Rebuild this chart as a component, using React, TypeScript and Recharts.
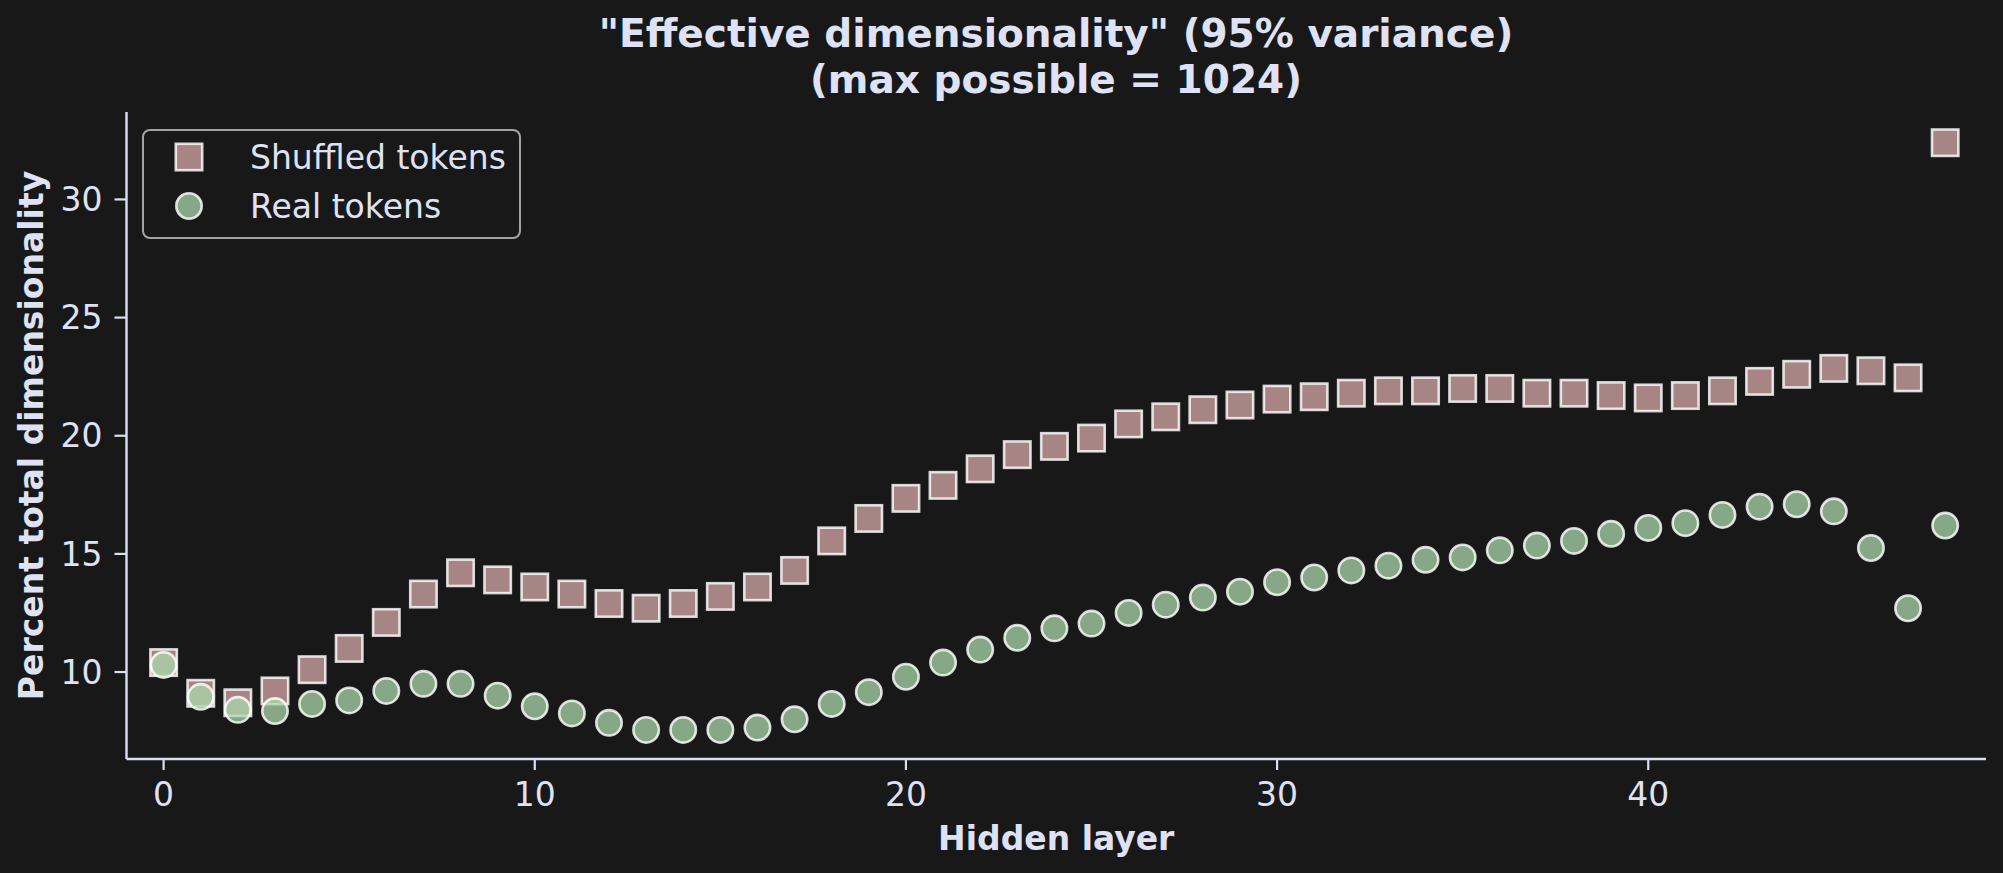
import React from "react";
import { ScatterChart, Scatter, XAxis, YAxis, Legend, Label } from "recharts";

const layers = [
  0, 1, 2, 3, 4, 5, 6, 7, 8, 9, 10, 11, 12, 13, 14, 15, 16, 17, 18, 19, 20, 21, 22, 23, 24,
  25, 26, 27, 28, 29, 30, 31, 32, 33, 34, 35, 36, 37, 38, 39, 40, 41, 42, 43, 44, 45, 46, 47, 48,
];

const shuffledTokens = [
  10.4, 9.1, 8.7, 9.2, 10.1, 11.0, 12.1, 13.3, 14.2, 13.9, 13.6, 13.3, 12.9, 12.7, 12.9, 13.2,
  13.6, 14.3, 15.55, 16.5, 17.35, 17.9, 18.6, 19.2, 19.55, 19.9, 20.5, 20.8, 21.1, 21.3, 21.55,
  21.65, 21.8, 21.9, 21.9, 22.0, 22.0, 21.8, 21.8, 21.7, 21.6, 21.7, 21.9, 22.3, 22.6, 22.85,
  22.75, 22.45, 32.4,
];

const realTokens = [
  10.3, 8.95, 8.4, 8.35, 8.65, 8.8, 9.2, 9.5, 9.5, 9.0, 8.55, 8.25, 7.85, 7.55, 7.55, 7.55,
  7.65, 8.0, 8.65, 9.15, 9.8, 10.4, 10.95, 11.45, 11.85, 12.05, 12.5, 12.85, 13.15, 13.4, 13.8,
  14.0, 14.3, 14.5, 14.75, 14.85, 15.15, 15.35, 15.55, 15.85, 16.1, 16.3, 16.65, 17.0, 17.1,
  16.8, 15.25, 12.7, 16.2,
];

const xTicks = [0, 10, 20, 30, 40];
const yTicks = [10, 15, 20, 25, 30];

const seriesNames = ["Shuffled tokens", "Real tokens"];

const BG = "#181818";
const FG = "#dfe2f5";
const FONT = "'DejaVu Sans', sans-serif";
const PINK = "#d8a9a9";
const GREEN = "#abd8ab";

const shuffledData = layers.map((x, i) => ({ x, y: shuffledTokens[i] }));
const realData = layers.map((x, i) => ({ x, y: realTokens[i] }));

function SquareMark({ cx, cy }: any) {
  return (
    <rect
      x={cx - 13.2}
      y={cy - 13.2}
      width={26.4}
      height={26.4}
      fill={PINK}
      fillOpacity={0.75}
      stroke="#ffffff"
      strokeOpacity={0.82}
      strokeWidth={2.6}
    />
  );
}

function CircleMark({ cx, cy }: any) {
  return (
    <circle
      cx={cx}
      cy={cy}
      r={12.7}
      fill={GREEN}
      fillOpacity={0.75}
      stroke="#ffffff"
      strokeOpacity={0.82}
      strokeWidth={2.6}
    />
  );
}

function LegendBox() {
  return (
    <div
      style={{
        width: 379,
        height: 110,
        boxSizing: "border-box",
        border: "2.4px solid #a3a3a3",
        borderRadius: 8,
        background: BG,
        position: "relative",
        fontFamily: FONT,
      }}
    >
      <svg width={379} height={110} style={{ position: "absolute", left: -2.4, top: -2.4 }}>
        <g transform="translate(47,28)">
          <SquareMark cx={0} cy={0} />
        </g>
        <g transform="translate(47,77)">
          <CircleMark cx={0} cy={0} />
        </g>
        <text x={108} y={40} fill={FG} fontSize={33} fontFamily={FONT}>
          {seriesNames[0]}
        </text>
        <text x={108} y={89} fill={FG} fontSize={33} fontFamily={FONT}>
          {seriesNames[1]}
        </text>
      </svg>
    </div>
  );
}

export default function App() {
  return (
    <div
      style={{
        position: "absolute",
        left: 0,
        top: 0,
        width: 2003,
        height: 873,
        background: BG,
        overflow: "hidden",
      }}
    >
      <svg
        width={2003}
        height={110}
        style={{ position: "absolute", left: 0, top: 0, zIndex: 2 }}
      >
        <text x={1056} y={47} textAnchor="middle" fill={FG} fontSize={39} fontWeight="bold" fontFamily={FONT}>
          "Effective dimensionality" (95% variance)
        </text>
        <text x={1056} y={93} textAnchor="middle" fill={FG} fontSize={39} fontWeight="bold" fontFamily={FONT}>
          (max possible = 1024)
        </text>
      </svg>
      <ScatterChart
        width={2003}
        height={873}
        margin={{ top: 112, right: 17, bottom: 0, left: 0 }}
      >
        <XAxis
          type="number"
          dataKey="x"
          domain={[-1, 49.1]}
          ticks={xTicks}
          allowDataOverflow
          height={114}
          stroke="#dcdff2"
          strokeWidth={2.4}
          tickSize={11}
          tickMargin={13}
          tick={{ fill: FG, fontSize: 33, fontFamily: FONT }}
          tickLine={{ stroke: "#dcdff2", strokeWidth: 2.2 }}
        >
          <Label
            content={({ viewBox }: any) => (
              <text
                x={viewBox.x + viewBox.width / 2}
                y={850}
                textAnchor="middle"
                fill={FG}
                fontSize={33}
                fontWeight="bold"
                fontFamily={FONT}
              >
                Hidden layer
              </text>
            )}
          />
        </XAxis>
        <YAxis
          type="number"
          dataKey="y"
          domain={[6.32, 33.7]}
          ticks={yTicks}
          allowDataOverflow
          width={126.5}
          stroke="#dcdff2"
          strokeWidth={2.4}
          tickSize={12}
          tickMargin={12}
          tick={{ fill: FG, fontSize: 33, fontFamily: FONT }}
          tickLine={{ stroke: "#dcdff2", strokeWidth: 2.2 }}
        >
          <Label
            content={({ viewBox }: any) => {
              const cx = 31;
              const cy = viewBox.y + viewBox.height / 2;
              return (
                <text
                  x={cx}
                  y={cy}
                  transform={`rotate(-90, ${cx}, ${cy})`}
                  textAnchor="middle"
                  dominantBaseline="central"
                  fill={FG}
                  fontSize={33}
                  fontWeight="bold"
                  fontFamily={FONT}
                >
                  Percent total dimensionality
                </text>
              );
            }}
          />
        </YAxis>
        <Legend
          layout="vertical"
          align="center"
          verticalAlign="middle"
          wrapperStyle={{ position: "absolute", left: 142, top: 129, width: 379, height: 110 }}
          content={() => <LegendBox />}
        />
        <Scatter
          name={seriesNames[0]}
          data={shuffledData}
          shape={(p: any) => <SquareMark {...p} />}
          isAnimationActive={false}
        />
        <Scatter
          name={seriesNames[1]}
          data={realData}
          shape={(p: any) => <CircleMark {...p} />}
          isAnimationActive={false}
        />
      </ScatterChart>
    </div>
  );
}
